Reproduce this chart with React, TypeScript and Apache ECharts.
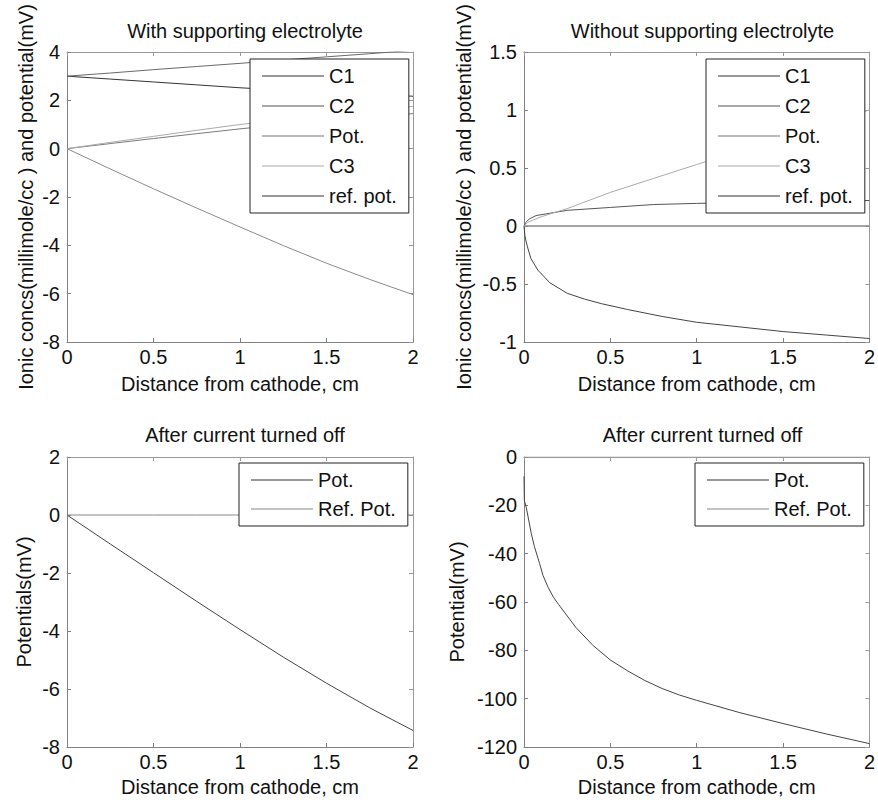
import React, { useEffect, useRef } from "react";
import * as echarts from "echarts";

// ---------- Data ----------
const xTicks = { min: 0, max: 2, interval: 0.5 };

// Top-left: With supporting electrolyte
const tlX = [0, 0.25, 0.5, 0.75, 1, 1.25, 1.5, 1.75, 2];
const tlC1 = [3, 2.88, 2.76, 2.64, 2.52, 2.42, 2.33, 2.25, 2.17];
const tlC2 = [3, 3.13, 3.27, 3.4, 3.53, 3.67, 3.8, 3.93, 4.07];
const tlPot = [0, 0.21, 0.42, 0.62, 0.82, 1.0, 1.16, 1.31, 1.45];
const tlC3 = [0, 0.26, 0.51, 0.76, 1.0, 1.2, 1.4, 1.58, 1.75];
const tlRef = [0, -0.84, -1.66, -2.46, -3.24, -4.01, -4.74, -5.41, -6.04];

// Top-right: Without supporting electrolyte
const trXC1 = [0, 0.005, 0.01, 0.02, 0.04, 0.08, 0.15, 0.25, 0.35, 0.45, 0.6, 0.8, 1.0, 1.25, 1.5, 1.75, 2.0];
const trC1 = [0, -0.08, -0.12, -0.18, -0.28, -0.38, -0.49, -0.58, -0.63, -0.67, -0.72, -0.78, -0.83, -0.87, -0.91, -0.94, -0.97];
const trXFlat = [0, 2];
const trC2 = [0, 0];
const trRef = [0, 0];
const trXPot = [0, 0.01, 0.03, 0.07, 0.15, 0.25, 0.5, 0.75, 1.0, 1.5, 2.0];
const trPot = [0, 0.03, 0.06, 0.09, 0.11, 0.135, 0.16, 0.185, 0.195, 0.21, 0.22];
const trXC3 = [0, 0.02, 0.05, 0.1, 0.25, 0.5, 0.75, 1.0, 1.25, 1.5, 1.75, 2.0];
const trC3 = [0, 0.03, 0.05, 0.08, 0.15, 0.29, 0.41, 0.53, 0.65, 0.77, 0.89, 1.0];

// Bottom-left: After current turned off (with electrolyte)
const blX = [0, 0.25, 0.5, 0.75, 1, 1.25, 1.5, 1.75, 2];
const blPot = [0, -1.0, -1.99, -2.98, -3.95, -4.9, -5.8, -6.65, -7.43];
const blRef = [0, 0, 0, 0, 0, 0, 0, 0, 0];

// Bottom-right: After current turned off (without electrolyte)
const brX = [0, 0.002, 0.0135, 0.042, 0.06, 0.09, 0.11, 0.138, 0.17, 0.2, 0.3, 0.4, 0.5, 0.6, 0.7, 0.8, 0.9, 1.0, 1.25, 1.5, 1.75, 2.0];
const brPot = [-8, -18, -21, -31.6, -37, -44, -49, -53.7, -58, -61, -70.5, -78, -84, -88.5, -92.5, -95.8, -98.5, -100.7, -105.8, -110.3, -114.6, -118.6];
const brXRef = [0, 2];
const brRef = [0, 0];

const titles = [
  "With supporting electrolyte",
  "Without supporting electrolyte",
  "After current turned off",
  "After current turned off",
];
const xName = "Distance from cathode, cm";
const yNames = [
  "Ionic concs(millimole/cc ) and potential(mV)",
  "Ionic concs(millimole/cc ) and potential(mV)",
  "Potentials(mV)",
  "Potential(mV)",
];
const yRanges = [
  { min: -8, max: 4, interval: 2 },
  { min: -1, max: 1.5, interval: 0.5 },
  { min: -8, max: 2, interval: 2 },
  { min: -120, max: 0, interval: 20 },
];

// ---------- Style ----------
const FONT = "Liberation Sans, Arial, sans-serif";
const FS = 20;
const TXT = "#111";
const FRAME = "#808080";
const grids = [
  { left: 67, top: 52, width: 346, height: 290 },
  { left: 524, top: 52, width: 347, height: 290 },
  { left: 67, top: 457, width: 346, height: 290 },
  { left: 524, top: 457, width: 347, height: 290 },
];
const yNameGaps = [31, 50, 33, 57];
const xNameGaps = [32, 32, 30, 30];

const pairs = (xs: number[], ys: number[]) => xs.map((x, i) => [x, ys[i]]);

export default function App() {
  const ref = useRef<HTMLDivElement>(null);
  useEffect(() => {
    if (!ref.current) return;
    const chart = echarts.init(ref.current, undefined, { renderer: "svg" });

    const xAxis: any[] = [];
    const yAxis: any[] = [];
    grids.forEach((g, i) => {
      xAxis.push({
        type: "value",
        gridIndex: i,
        position: "bottom",
        ...xTicks,
        name: xName,
        nameLocation: "middle",
        nameGap: xNameGaps[i],
        nameTextStyle: { fontSize: FS, fontFamily: FONT, color: TXT },
        axisLine: { show: true, onZero: false, lineStyle: { color: FRAME, width: 1 } },
        axisTick: { show: true, inside: true, length: 4, lineStyle: { color: FRAME } },
        axisLabel: { fontSize: FS, fontFamily: FONT, color: TXT, margin: 5 },
        splitLine: { show: false },
      });
      xAxis.push({
        type: "value",
        gridIndex: i,
        position: "top",
        ...xTicks,
        axisLine: { show: true, onZero: false, lineStyle: { color: "#999", width: 1 } },
        axisTick: { show: true, inside: true, length: 4, lineStyle: { color: "#999" } },
        axisLabel: { show: false },
        splitLine: { show: false },
      });
      yAxis.push({
        type: "value",
        gridIndex: i,
        position: "left",
        ...yRanges[i],
        name: yNames[i],
        nameLocation: "middle",
        nameGap: yNameGaps[i],
        nameTextStyle: { fontSize: FS, fontFamily: FONT, color: TXT },
        axisLine: { show: true, onZero: false, lineStyle: { color: FRAME, width: 1 } },
        axisTick: { show: true, inside: true, length: 4, lineStyle: { color: FRAME } },
        axisLabel: { fontSize: FS, fontFamily: FONT, color: TXT, margin: 7 },
        splitLine: { show: false },
      });
      yAxis.push({
        type: "value",
        gridIndex: i,
        position: "right",
        ...yRanges[i],
        axisLine: { show: true, onZero: false, lineStyle: { color: "#999", width: 1 } },
        axisTick: { show: true, inside: true, length: 4, lineStyle: { color: "#999" } },
        axisLabel: { show: false },
        splitLine: { show: false },
      });
    });

    const mk = (name: string, gi: number, data: number[][], color: string) => ({
      type: "line",
      name,
      xAxisIndex: gi * 2,
      yAxisIndex: gi * 2,
      data,
      symbol: "none",
      clip: true,
      smooth: false,
      lineStyle: { color, width: 1 },
      itemStyle: { color },
    });

    const series = [
      mk("C1", 0, pairs(tlX, tlC1), "#333333"),
      mk("C2", 0, pairs(tlX, tlC2), "#6a6a6a"),
      mk("Pot.", 0, pairs(tlX, tlPot), "#7a7a7a"),
      mk("C3", 0, pairs(tlX, tlC3), "#aaaaaa"),
      mk("ref. pot.", 0, pairs(tlX, tlRef), "#8a8a8a"),

      mk("C1", 1, pairs(trXC1, trC1), "#444444"),
      mk("C2", 1, pairs(trXFlat, trC2), "#888888"),
      mk("Pot.", 1, pairs(trXPot, trPot), "#555555"),
      mk("C3", 1, pairs(trXC3, trC3), "#aaaaaa"),
      mk("ref. pot.", 1, pairs(trXFlat, trRef), "#888888"),

      mk("Pot.", 2, pairs(blX, blPot), "#444444"),
      mk("Ref. Pot.", 2, pairs(blX, blRef), "#888888"),

      mk("Pot.", 3, pairs(brX, brPot), "#444444"),
      mk("Ref. Pot.", 3, pairs(brXRef, brRef), "#999999"),
    ];

    const legendBase = {
      orient: "vertical",
      icon: "rect",
      itemWidth: 62,
      itemHeight: 1,
      itemGap: 10,
      padding: [7, 12, 7, 12],
      borderColor: "#222",
      borderWidth: 1,
      borderRadius: 0,
      backgroundColor: "#fff",
      selectedMode: false,
      textStyle: { fontSize: FS, fontFamily: FONT, color: TXT, lineHeight: 19 },
      z: 10,
    };
    const item = (name: string, color: string) => ({
      name,
      icon: "rect",
      itemStyle: { color, borderWidth: 0 },
    });

    const legend = [
      {
        ...legendBase,
        left: 250,
        top: 59,
        data: [
          item("C1", "#333333"),
          item("C2", "#555555"),
          item("Pot.", "#777777"),
          item("C3", "#aaaaaa"),
          item("ref. pot.", "#333333"),
        ],
      },
      {
        ...legendBase,
        left: 706,
        top: 59,
        data: [
          item("C1", "#333333"),
          item("C2", "#555555"),
          item("Pot.", "#777777"),
          item("C3", "#aaaaaa"),
          item("ref. pot.", "#333333"),
        ],
      },
      {
        ...legendBase,
        left: 239,
        top: 463,
        itemGap: 9,
        data: [item("Pot.", "#333333"), item("Ref. Pot.", "#888888")],
      },
      {
        ...legendBase,
        left: 695,
        top: 463,
        itemGap: 9,
        data: [item("Pot.", "#333333"), item("Ref. Pot.", "#888888")],
      },
    ];

    const title = titles.map((t, i) => ({
      text: t,
      left: grids[i].left + grids[i].width / 2,
      top: i < 2 ? 16 : 420,
      textAlign: "center",
      textStyle: { fontSize: FS, fontWeight: "normal", fontFamily: FONT, color: TXT },
    }));

    chart.setOption({
      animation: false,
      backgroundColor: "#ffffff",
      title,
      legend,
      grid: grids.map((g) => ({ ...g, containLabel: false })),
      xAxis,
      yAxis,
      series,
    });

    return () => chart.dispose();
  }, []);

  return (
    <div
      ref={ref}
      style={{ position: "fixed", left: 0, top: 0, width: 878, height: 803, background: "#fff" }}
    />
  );
}
